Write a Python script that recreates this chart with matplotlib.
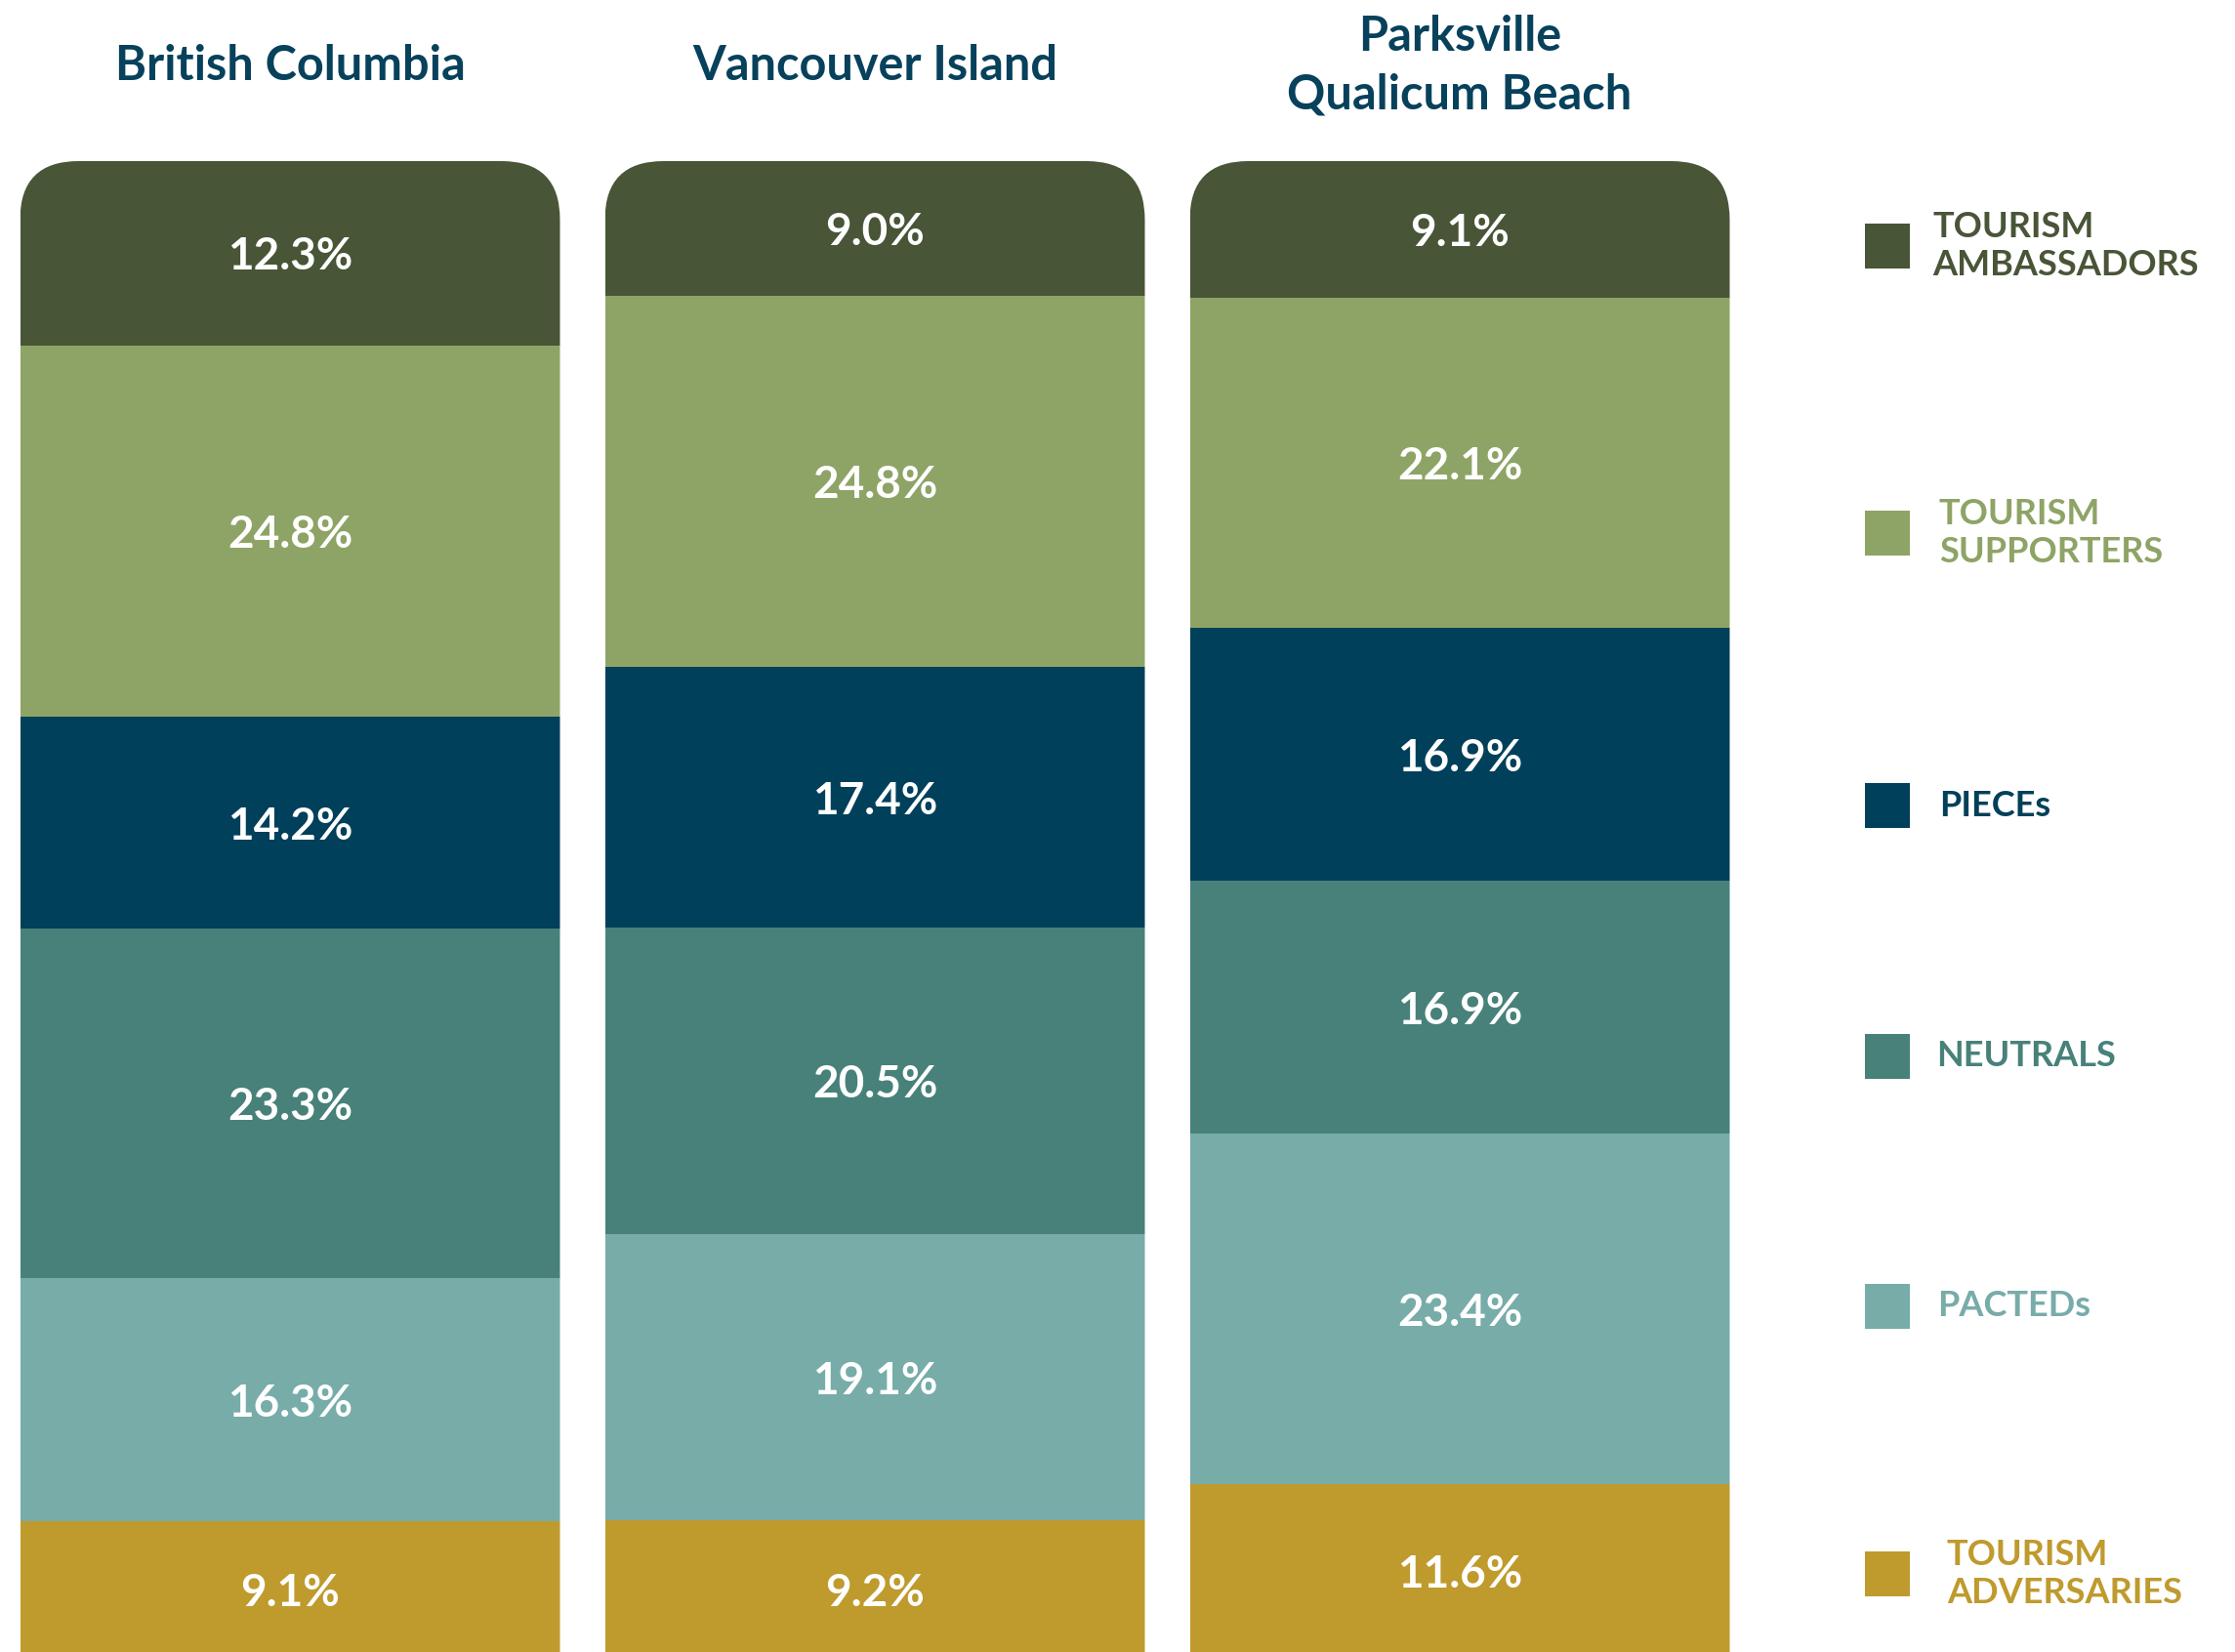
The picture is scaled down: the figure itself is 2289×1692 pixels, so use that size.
import matplotlib
matplotlib.use("Agg")
import matplotlib.pyplot as plt
from matplotlib.patches import FancyBboxPatch, Rectangle
from matplotlib.transforms import blended_transform_factory

plt.rcParams['font.family'] = ['Lato', 'DejaVu Sans']

regions = ["British Columbia", "Vancouver Island", "Parksville\nQualicum Beach"]

# stacked from the bottom up
segments = ["TOURISM\nADVERSARIES", "PACTEDs", "NEUTRALS", "PIECEs",
            "TOURISM\nSUPPORTERS", "TOURISM\nAMBASSADORS"]
colors = ["#BF9A2D", "#77ACA9", "#47817A", "#01405A", "#8EA466", "#485537"]

adversaries = [9.1, 9.2, 11.6]
pacteds = [16.3, 19.1, 23.4]
neutrals = [23.3, 20.5, 16.9]
pieces = [14.2, 17.4, 16.9]
supporters = [24.8, 24.8, 22.1]
ambassadors = [12.3, 9.0, 9.1]
values = [adversaries, pacteds, neutrals, pieces, supporters, ambassadors]

W, H = 2289, 1692
title_color = "#07415C"

fig = plt.figure(figsize=(W / 100, H / 100), dpi=100)
ax = fig.add_axes([0, -6 / H, 1, 1533 / H])
step = 599.0
ax.set_xlim(-297 / step, (W - 297) / step)
ax.set_ylim(0, 100)
ax.axis('off')

bar_w = 553 / step
radius_px = 60
px_per_pct = 1533 / 100.0
aspect = step / px_per_pct

clips = []
for i in range(len(regions)):
    clip = FancyBboxPatch((i - bar_w / 2, -20), bar_w, 120,
                          boxstyle="round,pad=0,rounding_size=%f" % (radius_px / step),
                          mutation_aspect=aspect, transform=ax.transData)
    clips.append(clip)

x = list(range(len(regions)))
bottom = [0.0] * len(regions)
for name, vals, col in zip(segments, values, colors):
    bars = ax.bar(x, vals, bar_w, bottom=bottom, color=col, linewidth=0)
    for i, (rect, v) in enumerate(zip(bars, vals)):
        rect.set_clip_path(clips[i])
        ax.annotate("%.1f%%" % v, xy=(i, bottom[i] + v / 2), xytext=(0, -3),
                    textcoords='offset points', ha='center', va='center',
                    color='white', fontsize=33, fontweight='bold')
    bottom = [b + v for b, v in zip(bottom, vals)]

# column titles
tr = blended_transform_factory(ax.transData, fig.transFigure)
title_y = [68, 68, 67]
for i, t in enumerate(regions):
    ax.text(i, 1 - title_y[i] / H, t, transform=tr, ha='center', va='center',
            color=title_color, fontsize=35, fontweight='bold', linespacing=1.38)

# legend on the right
leg_y = [1612, 1338, 1082, 825, 546, 252]
leg_x = [1994, 1984, 1983, 1986, 1986, 1979]
for name, col, yc, xt in zip(segments, colors, leg_y, leg_x):
    s = 46
    fig.patches.append(Rectangle(((1933 - s / 2) / W, 1 - (yc + s / 2) / H), s / W, s / H,
                                 transform=fig.transFigure, color=col, linewidth=0))
    fig.text(xt / W, 1 - yc / H, name, ha='left', va='center', color=col,
             fontsize=26, fontweight='bold', linespacing=1.25)

fig.savefig("out.png", dpi=100)
